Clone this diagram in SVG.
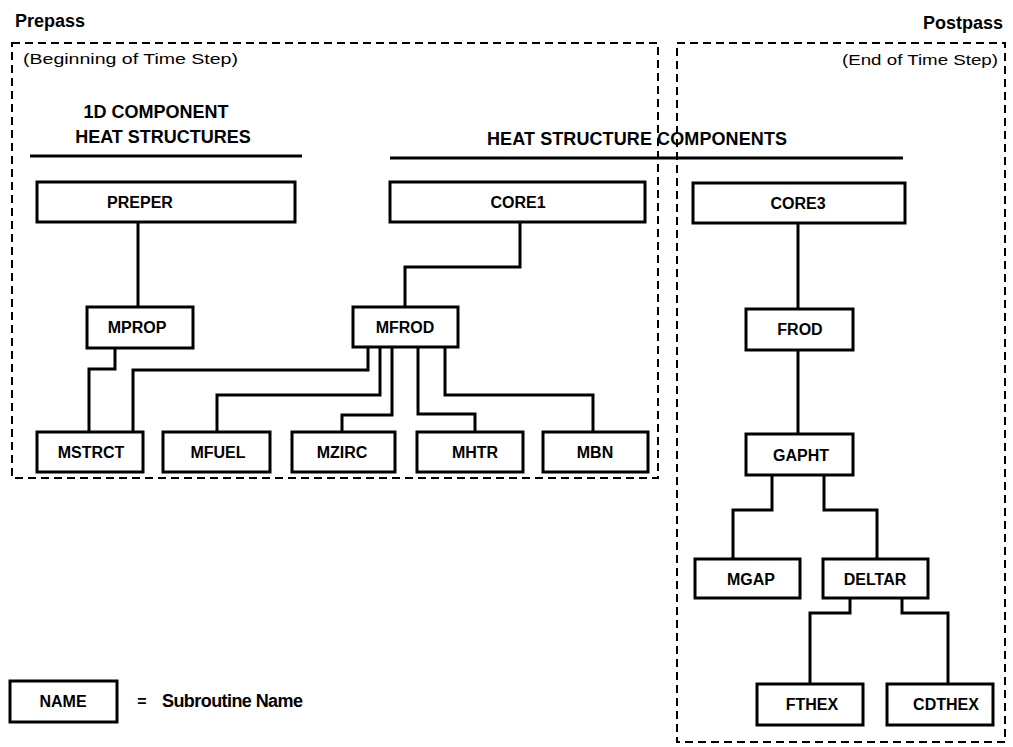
<svg xmlns="http://www.w3.org/2000/svg" width="1013" height="747" viewBox="0 0 1013 747">
<style>
.bg{fill:#fff}
.box{fill:#fff;stroke:#000;stroke-width:3}
.dash{fill:none;stroke:#000;stroke-width:2;stroke-dasharray:8 5}
.rule{stroke:#000;stroke-width:3}
.conn path{fill:none;stroke:#000;stroke-width:3}
.lbl{font-family:"Liberation Sans",Arial,sans-serif;font-weight:bold;font-size:16px;fill:#000;text-anchor:middle}
.head{font-family:"Liberation Sans",Arial,sans-serif;font-weight:bold;font-size:18px;fill:#000}
.note{font-family:"Liberation Sans",Arial,sans-serif;font-size:15px;fill:#000}
</style>
<rect class="bg" x="0" y="0" width="1013" height="747"/>

<g id="prepass">
<text class="head" x="15" y="27" font-size="17">Prepass</text>
<rect class="dash" x="12" y="43" width="646" height="435"/>
<text class="note" x="23" y="64" textLength="215" lengthAdjust="spacingAndGlyphs">(Beginning of Time Step)</text>
</g>
<g id="postpass">
<text class="head" x="1003" y="29" font-size="17" text-anchor="end">Postpass</text>
<rect class="dash" x="677" y="43" width="328" height="699"/>
<text class="note" x="998" y="65" text-anchor="end" textLength="156" lengthAdjust="spacingAndGlyphs">(End of Time Step)</text>
</g>

<g id="heading-1d">
<text class="head" x="156" y="118" text-anchor="middle">1D COMPONENT</text>
<text class="head" x="163" y="143" text-anchor="middle">HEAT STRUCTURES</text>
<line class="rule" x1="30" y1="156" x2="302" y2="156"/>
</g>
<g id="heading-hs">
<text class="head" x="487" y="145" textLength="300">HEAT STRUCTURE COMPONENTS</text>
<line class="rule" x1="390" y1="158" x2="903" y2="158"/>
</g>

<g class="conn" id="connectors">
<path d="M138,222 V307"/>
<path d="M115,348 V369 H89 V432"/>
<path d="M520,222 V267 H405 V307"/>
<path d="M368,347 V370 H133 V432"/>
<path d="M380,347 V395 H217 V432"/>
<path d="M392,347 V415 H342 V432"/>
<path d="M418,347 V414 H475 V432"/>
<path d="M445,347 V395 H593 V432"/>
<path d="M798,223 V309"/>
<path d="M798,350 V434"/>
<path d="M772,475 V510 H733 V559"/>
<path d="M824,475 V510 H877 V559"/>
<path d="M850,598 V613 H810 V684"/>
<path d="M902,598 V613 H948 V684"/>
</g>

<g id="PREPER"><rect class="box" x="37" y="182" width="258" height="40"/><text class="lbl" x="140" y="208">PREPER</text></g>
<g id="CORE1"><rect class="box" x="390" y="182" width="255" height="40"/><text class="lbl" x="518" y="208">CORE1</text></g>
<g id="CORE3"><rect class="box" x="693" y="183" width="212" height="40"/><text class="lbl" x="798" y="209">CORE3</text></g>
<g id="MPROP"><rect class="box" x="87" y="307" width="106" height="41"/><text class="lbl" x="137" y="333">MPROP</text></g>
<g id="MFROD"><rect class="box" x="353" y="307" width="105" height="40"/><text class="lbl" x="405" y="333">MFROD</text></g>
<g id="FROD"><rect class="box" x="746" y="309" width="107" height="41"/><text class="lbl" x="800" y="335">FROD</text></g>
<g id="MSTRCT"><rect class="box" x="37" y="432" width="106" height="40"/><text class="lbl" x="91" y="458">MSTRCT</text></g>
<g id="MFUEL"><rect class="box" x="163" y="432" width="107" height="40"/><text class="lbl" x="218" y="458">MFUEL</text></g>
<g id="MZIRC"><rect class="box" x="292" y="432" width="103" height="40"/><text class="lbl" x="342" y="458">MZIRC</text></g>
<g id="MHTR"><rect class="box" x="417" y="432" width="106" height="40"/><text class="lbl" x="475" y="458">MHTR</text></g>
<g id="MBN"><rect class="box" x="543" y="432" width="105" height="40"/><text class="lbl" x="595" y="458">MBN</text></g>
<g id="GAPHT"><rect class="box" x="746" y="434" width="107" height="41"/><text class="lbl" x="801" y="461">GAPHT</text></g>
<g id="MGAP"><rect class="box" x="695" y="559" width="105" height="39"/><text class="lbl" x="751" y="585">MGAP</text></g>
<g id="DELTAR"><rect class="box" x="823" y="559" width="105" height="39"/><text class="lbl" x="875" y="585">DELTAR</text></g>
<g id="FTHEX"><rect class="box" x="757" y="684" width="106" height="41"/><text class="lbl" x="812" y="710">FTHEX</text></g>
<g id="CDTHEX"><rect class="box" x="887" y="684" width="106" height="41"/><text class="lbl" x="946" y="710">CDTHEX</text></g>

<g id="legend">
<rect class="box" x="10" y="681" width="107" height="41"/>
<text class="lbl" x="63" y="707">NAME</text>
<text class="lbl" x="142" y="707">=</text>
<text class="head" x="162" y="707" font-size="16" textLength="141">Subroutine Name</text>
</g>
</svg>
